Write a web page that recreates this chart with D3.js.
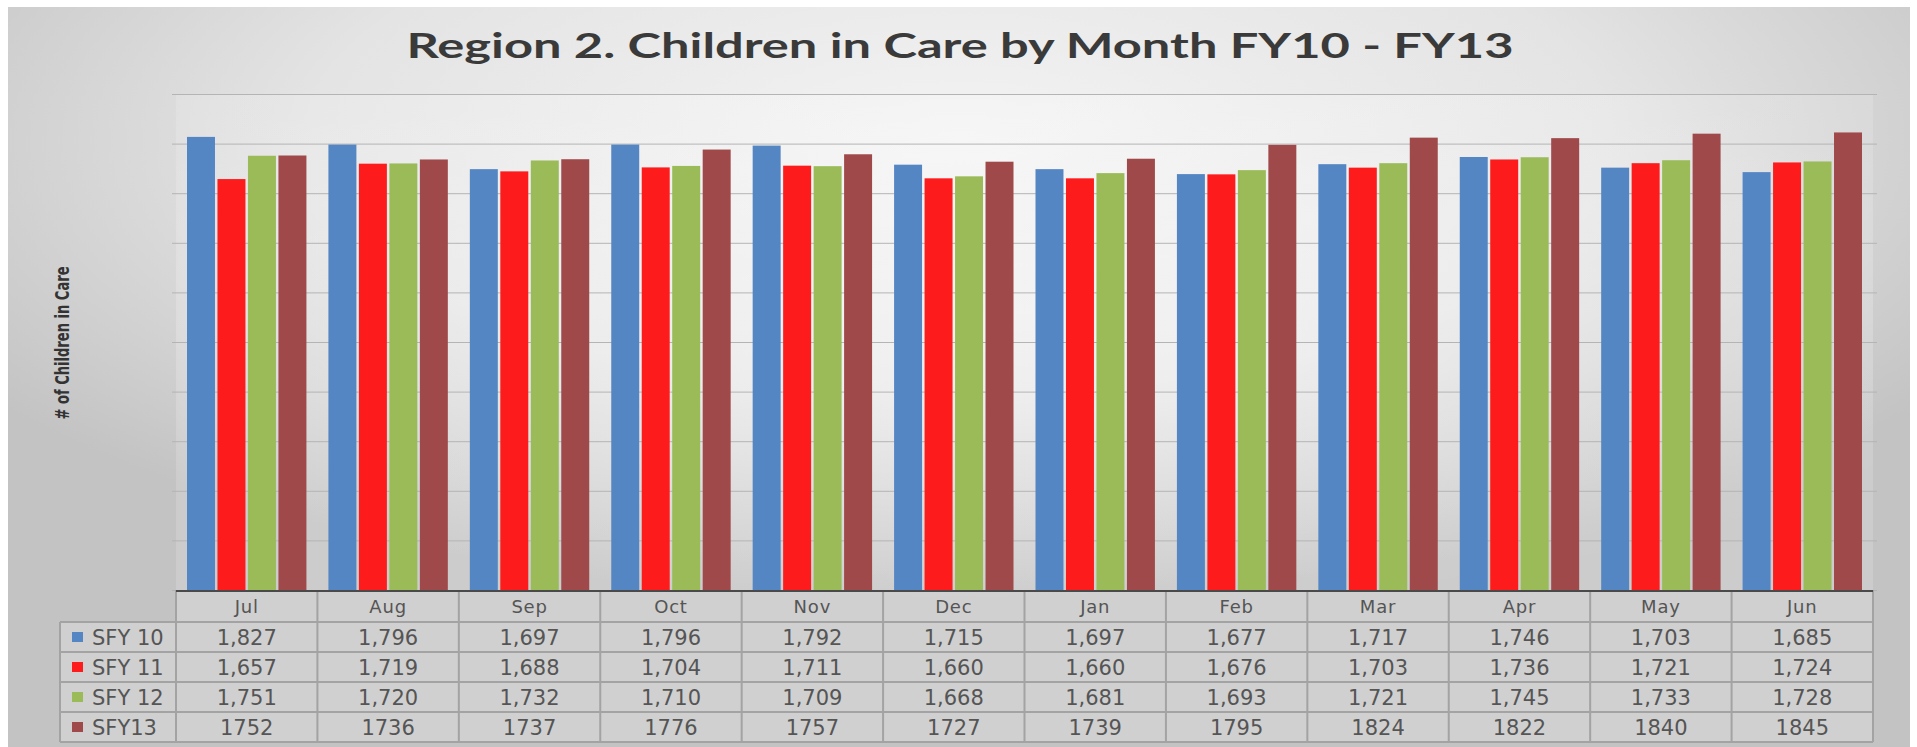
<!DOCTYPE html>
<html>
<head>
<meta charset="utf-8">
<script src="https://cdn.jsdelivr.net/npm/d3@7"></script>
<style>
    html, body { margin: 0; padding: 0; background: #ffffff; }
    svg { display: block; }
</style>
</head>
<body>
<div id="chart"></div>
<script>
// chart values
const months = ["Jul", "Aug", "Sep", "Oct", "Nov", "Dec", "Jan", "Feb", "Mar", "Apr", "May", "Jun"];
const seriesNames = ["SFY 10", "SFY 11", "SFY 12", "SFY13"];
const sfy10 = [1827, 1796, 1697, 1796, 1792, 1715, 1697, 1677, 1717, 1746, 1703, 1685];
const sfy11 = [1657, 1719, 1688, 1704, 1711, 1660, 1660, 1676, 1703, 1736, 1721, 1724];
const sfy12 = [1751, 1720, 1732, 1710, 1709, 1668, 1681, 1693, 1721, 1745, 1733, 1728];
const sfy13 = [1752, 1736, 1737, 1776, 1757, 1727, 1739, 1795, 1824, 1822, 1840, 1845];
const yTicks = [0, 200, 400, 600, 800, 1000, 1200, 1400, 1600, 1800, 2000];

const seriesValues = [sfy10, sfy11, sfy12, sfy13];
const colors = ["#5586c4", "#fd1b1b", "#9bbb59", "#a0494a"];
// SFY13 row was typed without thousands separator in the source table
const cellFormats = [d3.format(","), d3.format(","), d3.format(","), d3.format("d")];

const W = 1917, H = 747;
const plot = { left: 176, right: 1873, top: 94, bottom: 590 };
const tableLeft = 60;
const headerH = 30, rowH = 30;

const svg = d3.select("#chart")
    .append("svg")
    .attr("width", W)
    .attr("height", H);

    // background gradients
const defs = svg.append("defs");
const bg = defs.append("radialGradient")
    .attr("id", "bgGrad")
    .attr("cx", "50%").attr("cy", "18%").attr("r", "62%");
bg.append("stop").attr("offset", "0%").attr("stop-color", "#f3f3f3");
bg.append("stop").attr("offset", "55%").attr("stop-color", "#e4e4e4");
bg.append("stop").attr("offset", "100%").attr("stop-color", "#c3c3c3");

const plotGrad = defs.append("radialGradient")
    .attr("id", "plotGrad")
    .attr("cx", "50%").attr("cy", "45%").attr("r", "60%");
plotGrad.append("stop").attr("offset", "0%").attr("stop-color", "#ffffff").attr("stop-opacity", 0.45);
plotGrad.append("stop").attr("offset", "100%").attr("stop-color", "#ffffff").attr("stop-opacity", 0.15);

svg.append("rect")
    .attr("x", 8).attr("y", 7)
    .attr("width", 1910 - 8).attr("height", H - 7)
    .attr("fill", "url(#bgGrad)");

svg.append("rect")
    .attr("x", plot.left).attr("y", plot.top)
    .attr("width", plot.right - plot.left).attr("height", plot.bottom - plot.top)
    .attr("fill", "url(#plotGrad)");

    // scales
const x0 = d3.scaleBand()
    .domain(months)
    .range([plot.left, plot.right])
    .padding(0);

const x1 = d3.scaleBand()
    .domain(seriesNames)
    .range([11, x0.bandwidth() - 11])
    .paddingInner(0.082);

const y = d3.scaleLinear()
    .domain([0, 2000])
    .range([plot.bottom, plot.top]);

    // gridlines, no labels
svg.append("g")
    .attr("class", "grid")
    .attr("transform", `translate(${plot.left},0)`)
    .call(d3.axisLeft(y).tickValues(yTicks).tickSize(-(plot.right - plot.left) - 4).tickFormat(""))
    .call(g => g.select(".domain").remove())
    .call(g => g.selectAll(".tick line")
        .attr("x1", -4)
        .attr("stroke", "#b4b4b4")
        .attr("stroke-width", 1));

    // bars
const groups = svg.selectAll(".month")
    .data(months)
    .enter()
    .append("g")
    .attr("class", "month")
    .attr("transform", d => `translate(${x0(d)},0)`);

groups.selectAll("rect")
    .data((m, i) => seriesNames.map((s, k) => ({ series: s, value: seriesValues[k][i], k: k })))
    .enter()
    .append("rect")
    .attr("x", d => x1(d.series))
    .attr("y", d => y(d.value))
    .attr("width", x1.bandwidth())
    .attr("height", d => y(0) - y(d.value))
    .attr("fill", d => colors[d.k]);

    // data table below the axis
const table = svg.append("g").attr("class", "table");
const rowsTop = plot.bottom + 2 + headerH;
const tableBottom = rowsTop + rowH * seriesNames.length;
const border = "#a3a3a3";

table.append("rect")
    .attr("x", plot.left).attr("y", plot.bottom)
    .attr("width", plot.right - plot.left).attr("height", rowsTop - plot.bottom)
    .attr("fill", "#ffffff").attr("fill-opacity", 0.22);
table.append("rect")
    .attr("x", tableLeft).attr("y", rowsTop)
    .attr("width", plot.right - tableLeft).attr("height", tableBottom - rowsTop)
    .attr("fill", "#ffffff").attr("fill-opacity", 0.22);

    // horizontal rules
table.selectAll(".hrule")
    .data(d3.range(seriesNames.length + 1))
    .enter()
    .append("line")
    .attr("x1", tableLeft).attr("x2", plot.right)
    .attr("y1", i => rowsTop + i * rowH).attr("y2", i => rowsTop + i * rowH)
    .attr("stroke", border).attr("stroke-width", 2);

    // vertical rules
const vx = months.map(m => x0(m)).concat([plot.right]);
table.selectAll(".vrule")
    .data(vx)
    .enter()
    .append("line")
    .attr("x1", d => d).attr("x2", d => d)
    .attr("y1", plot.bottom).attr("y2", tableBottom)
    .attr("stroke", border).attr("stroke-width", 2);
table.append("line")
    .attr("x1", tableLeft).attr("x2", tableLeft)
    .attr("y1", rowsTop).attr("y2", tableBottom)
    .attr("stroke", border).attr("stroke-width", 2);

    // axis line
svg.append("line")
    .attr("x1", plot.left).attr("x2", plot.right)
    .attr("y1", plot.bottom + 1).attr("y2", plot.bottom + 1)
    .attr("stroke", "#4a4a4a").attr("stroke-width", 2);

    // month header
table.selectAll(".mlabel")
    .data(months)
    .enter()
    .append("text")
    .attr("x", d => x0(d) + x0.bandwidth() / 2)
    .attr("y", plot.bottom + 2 + headerH / 2)
    .attr("dy", "0.36em")
    .attr("text-anchor", "middle")
    .attr("font-family", "DejaVu Sans, Verdana, sans-serif")
    .attr("font-size", 18)
    .attr("letter-spacing", 0.8)
    .attr("fill", "#555555")
    .text(d => d);

    // legend column
const legendRows = table.selectAll(".lrow")
    .data(seriesNames)
    .enter()
    .append("g")
    .attr("class", "lrow")
    .attr("transform", (d, i) => `translate(0,${rowsTop + i * rowH})`);

legendRows.append("rect")
    .attr("x", 72).attr("y", rowH / 2 - 5)
    .attr("width", 11).attr("height", 10)
    .attr("fill", (d, i) => colors[i]);

legendRows.append("text")
    .attr("x", 92)
    .attr("y", rowH / 2)
    .attr("dy", "0.36em")
    .attr("font-family", "DejaVu Sans, Verdana, sans-serif")
    .attr("font-size", 21)
    .attr("fill", "#555555")
    .text(d => d);

    // value cells
seriesNames.forEach(function (s, k) {
    table.selectAll(".cell-" + k)
        .data(seriesValues[k])
        .enter()
        .append("text")
        .attr("x", (d, i) => x0(months[i]) + x0.bandwidth() / 2)
        .attr("y", rowsTop + k * rowH + rowH / 2)
        .attr("dy", "0.36em")
        .attr("text-anchor", "middle")
        .attr("font-family", "DejaVu Sans, Verdana, sans-serif")
        .attr("font-size", 21)
        .attr("fill", "#555555")
        .text(d => cellFormats[k](d));
});

    // title
svg.append("text")
    .attr("x", 960)
    .attr("y", 58)
    .attr("text-anchor", "middle")
    .attr("font-family", "Lato, 'Open Sans', sans-serif")
    .attr("font-weight", "bold")
    .attr("font-size", 34)
    .attr("textLength", 1107)
    .attr("lengthAdjust", "spacingAndGlyphs")
    .attr("fill", "#3a3a3a")
    .text("Region 2. Children in Care by Month FY10 - FY13");

    // y axis title
svg.append("text")
    .attr("transform", "translate(69,343) rotate(-90)")
    .attr("text-anchor", "middle")
    .attr("font-family", "'Liberation Sans Narrow', 'DejaVu Sans Condensed', sans-serif")
    .attr("font-weight", "bold")
    .attr("font-size", 19)
    .attr("textLength", 153)
    .attr("lengthAdjust", "spacingAndGlyphs")
    .attr("fill", "#333333")
    .text("# of Children in Care");
</script>
</body>
</html>
